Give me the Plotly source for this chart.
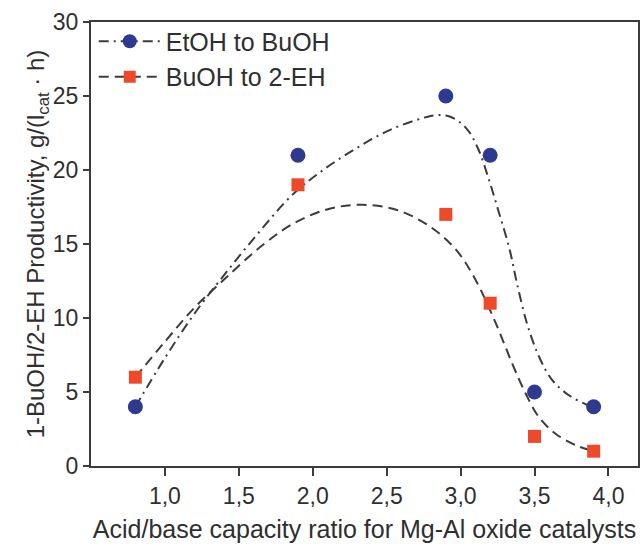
import plotly.graph_objects as go

# Measured productivity at each acid/base capacity ratio
ratio = [0.8, 1.9, 2.9, 3.2, 3.5, 3.9]
etoh_to_buoh = [4, 21, 25, 21, 5, 4]
buoh_to_2eh = [6, 19, 17, 11, 2, 1]

# Smoothed trend lines through the two series
etoh_trend_x = [0.8, 1.0, 1.2, 1.4, 1.62, 1.86, 2.07, 2.3, 2.52, 2.74, 2.83, 2.93,
                3.04, 3.12, 3.19, 3.26, 3.33, 3.38, 3.45, 3.53, 3.62, 3.73, 3.84, 3.9]
etoh_trend_y = [4.0, 7.3, 10.3, 12.9, 15.6, 18.3, 20.0, 21.5, 22.7, 23.5, 23.7, 23.6,
                22.8, 21.4, 19.4, 17.1, 14.7, 12.4, 9.6, 7.4, 5.8, 4.8, 4.2, 4.0]
buoh_trend_x = [0.8, 1.0, 1.2, 1.4, 1.67, 1.89, 2.12, 2.34, 2.57, 2.79, 2.97,
                3.1, 3.24, 3.35, 3.44, 3.53, 3.64, 3.78, 3.9]
buoh_trend_y = [6.0, 8.4, 10.7, 12.6, 15.0, 16.5, 17.4, 17.65, 17.3, 16.2, 14.6,
                12.6, 9.6, 6.9, 4.9, 3.3, 2.2, 1.4, 1.0]

x_ticks = [1.0, 1.5, 2.0, 2.5, 3.0, 3.5, 4.0]
x_tick_text = ["1,0", "1,5", "2,0", "2,5", "3,0", "3,5", "4,0"]
y_ticks = [0, 5, 10, 15, 20, 25, 30]

BLUE = "#2E3A8E"
RED = "#EE4A2A"
LINE = "#3C3C3C"
TEXT = "#2F2F2F"
FONT = "Liberation Sans, Arial, sans-serif"
DASHDOT = "10px,5px,2px,5px"
DASHED = "10px,6px"

fig = go.Figure()

fig.add_trace(go.Scatter(x=etoh_trend_x, y=etoh_trend_y, mode="lines",
                         line=dict(color=LINE, width=2, dash=DASHDOT, shape="spline", smoothing=1.0),
                         showlegend=False, hoverinfo="skip"))
fig.add_trace(go.Scatter(x=buoh_trend_x, y=buoh_trend_y, mode="lines",
                         line=dict(color=LINE, width=2, dash=DASHED, shape="spline", smoothing=1.0),
                         showlegend=False, hoverinfo="skip"))

fig.add_trace(go.Scatter(x=ratio, y=etoh_to_buoh, mode="markers",
                         marker=dict(symbol="circle", size=15, color=BLUE),
                         showlegend=False))
fig.add_trace(go.Scatter(x=ratio, y=buoh_to_2eh, mode="markers",
                         marker=dict(symbol="square", size=13, color=RED),
                         showlegend=False))

# Legend entries combining line style and marker
fig.add_trace(go.Scatter(x=[None], y=[None], mode="lines+markers", name="EtOH to BuOH",
                         line=dict(color=LINE, width=2, dash=DASHDOT),
                         marker=dict(symbol="circle", size=14, color=BLUE)))
fig.add_trace(go.Scatter(x=[None], y=[None], mode="lines+markers", name="BuOH to 2-EH",
                         line=dict(color=LINE, width=2, dash=DASHED),
                         marker=dict(symbol="square", size=12, color=RED)))

axis_common = dict(showline=True, linecolor=LINE, linewidth=2, mirror=True,
                   ticks="outside", tickcolor=LINE, tickwidth=2, showgrid=False,
                   zeroline=False, tickfont=dict(family=FONT, size=23, color=TEXT))

fig.update_layout(
    width=642, height=552,
    margin=dict(l=91, r=2, t=22, b=86),
    paper_bgcolor="white", plot_bgcolor="white",
    font=dict(family=FONT, color=TEXT),
    xaxis=dict(range=[0.5, 4.2], tickvals=x_ticks, ticktext=x_tick_text, ticklen=8,
               title=dict(text="Acid/base capacity ratio for Mg-Al oxide catalysts",
                          font=dict(family=FONT, size=25, color=TEXT), standoff=13),
               **axis_common),
    yaxis=dict(range=[0, 30], tickvals=y_ticks, ticklen=6,
               title=dict(text="1-BuOH/2-EH Productivity, g/(l<sub>cat</sub> · h)",
                          font=dict(family=FONT, size=24, color=TEXT), standoff=1),
               **axis_common),
    legend=dict(x=0.005, y=1.008, xanchor="left", yanchor="top",
                bgcolor="rgba(0,0,0,0)", font=dict(family=FONT, size=25, color=TEXT),
                itemwidth=62, tracegroupgap=0),
)

fig.write_html("out.html")
